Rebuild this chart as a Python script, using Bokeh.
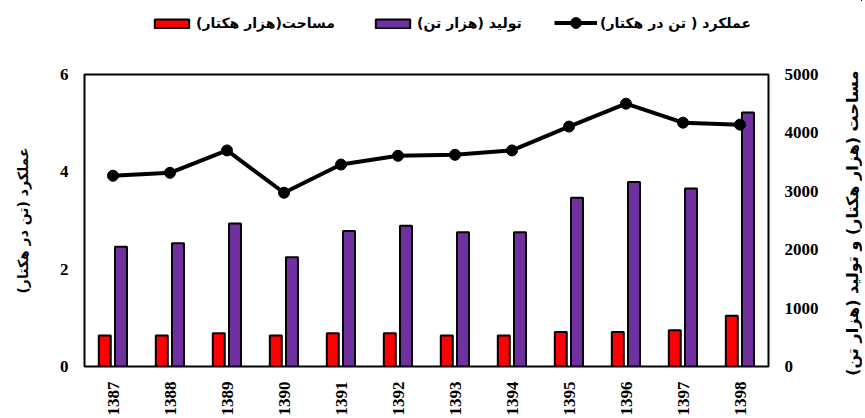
import math
from bokeh.plotting import figure
from bokeh.layouts import row, column
from bokeh.models import (ColumnDataSource, FactorRange, Range1d, LinearAxis, Legend, LegendItem,
                          FixedTicker, Title, Spacer)
from bokeh.transform import dodge
from bokeh.embed import file_html
from bokeh.resources import INLINE

years = ["1387", "1388", "1389", "1390", "1391", "1392", "1393", "1394", "1395", "1396", "1397", "1398"]
yield_t_ha = [3.92, 3.98, 4.44, 3.57, 4.15, 4.33, 4.35, 4.44, 4.93, 5.40, 5.01, 4.97]
area_kha = [530, 530, 570, 530, 570, 570, 530, 530, 590, 590, 620, 870]
production_kt = [2050, 2110, 2450, 1870, 2320, 2410, 2300, 2300, 2890, 3160, 3050, 4350]

left_ticks = [0, 2, 4, 6]
right_ticks = [0, 1000, 2000, 3000, 4000, 5000]

lbl_area = "مساحت(هزار هکتار)"
lbl_prod = "تولید (هزار تن)"
lbl_yield = "عملکرد ( تن در هکتار)"
title_left = "عملکرد (تن در هکتار)"
title_right = "مساحت (هزار هکتار)  و تولید (هزار تن)"

RED = "#FF0000"
PURPLE = "#7030A0"
tick_font = "Liberation Serif"
ar_font = "DejaVu Sans"

src = ColumnDataSource(dict(year=years, yld=yield_t_ha, area=area_kha, prod=production_kt))

def blank(fig):
    fig.outline_line_color = None
    fig.background_fill_color = "white"
    fig.border_fill_color = "white"
    fig.grid.visible = False

def style_axis(ax, standoff):
    ax.axis_line_color = None
    ax.major_tick_line_color = None
    ax.minor_tick_line_color = None
    ax.major_tick_out = 0
    ax.major_tick_in = 0
    ax.minor_tick_out = 0
    ax.minor_tick_in = 0
    ax.major_label_standoff = standoff
    ax.major_label_text_font = tick_font
    ax.major_label_text_font_style = "bold"
    ax.major_label_text_font_size = "17px"
    ax.major_label_text_color = "black"

ROW_H = 374

# ---------------- main chart ----------------
p = figure(width=806, height=ROW_H, x_range=FactorRange(factors=years), y_range=Range1d(0, 6),
           output_backend="svg", toolbar_location=None,
           min_border_left=50, min_border_right=72, min_border_top=30, min_border_bottom=51)
p.extra_y_ranges = {"right": Range1d(0, 5000)}
p.xgrid.grid_line_color = None
p.ygrid.grid_line_color = None
p.outline_line_color = "black"
p.outline_line_width = 2
p.background_fill_color = "white"
p.border_fill_color = "white"

ya = p.yaxis[0]
ya.ticker = FixedTicker(ticks=left_ticks)
style_axis(ya, 16)

ra = LinearAxis(y_range_name="right", ticker=FixedTicker(ticks=right_ticks))
style_axis(ra, 16)
p.add_layout(ra, "right")

xa = p.xaxis[0]
style_axis(xa, 15)
xa.major_label_orientation = math.pi / 2

p.vbar(x=dodge("year", -0.144, range=p.x_range), top="area", width=0.21, source=src,
       y_range_name="right", fill_color=RED, line_color="black", line_width=2)
p.vbar(x=dodge("year", 0.14, range=p.x_range), top="prod", width=0.21, source=src,
       y_range_name="right", fill_color=PURPLE, line_color="black", line_width=2)
p.line(x="year", y="yld", source=src, line_color="black", line_width=4)
p.scatter(x="year", y="yld", source=src, size=11, fill_color="black", line_color="black")

# ---------------- axis-title strips (both read bottom-to-top) ----------------
def title_strip(text, size, top, offset):
    f = figure(width=22, height=ROW_H, output_backend="svg", toolbar_location=None,
               x_axis_type=None, y_axis_type=None,
               min_border_left=0, min_border_right=0, min_border_top=top, min_border_bottom=0)
    blank(f)
    f.add_layout(Title(text=text, align="center", standoff=0, offset=offset, text_font=ar_font,
                       text_font_size=size, text_font_style="bold", text_color="black"), "left")
    return f

p0 = title_strip(title_left, "14px", 14, -15)
p2 = title_strip(title_right, "16px", 16, 0)

# ---------------- legend strip on top ----------------
pl = figure(width=862, height=44, x_range=Range1d(-2, -1), y_range=Range1d(-2, -1),
            output_backend="svg", toolbar_location=None, x_axis_type=None, y_axis_type=None,
            min_border_left=0, min_border_right=0, min_border_top=0, min_border_bottom=0)
blank(pl)
# legend-only renderers: their data fall outside this strip's ranges, so only the keys show
lg_area = pl.vbar(x="yld", top="area", width=0.1, source=src, fill_color=RED,
                  line_color="black", line_width=2)
lg_prod = pl.vbar(x="yld", top="prod", width=0.1, source=src, fill_color=PURPLE,
                  line_color="black", line_width=2)
lg_line = pl.line(x="yld", y="yld", source=src, line_color="black", line_width=4)
lg_pts = pl.scatter(x="yld", y="yld", source=src, size=11, fill_color="black", line_color="black")

def add_legend(label, renderers, x, y, gh):
    lg = Legend(items=[LegendItem(label=label, renderers=renderers)], location=(x, y),
                orientation="horizontal", border_line_color=None, background_fill_alpha=0,
                padding=0, margin=0, spacing=0, glyph_width=43, glyph_height=gh, label_height=11,
                label_standoff=3, label_text_font=ar_font, label_text_font_size="14px",
                label_text_font_style="bold", label_text_color="black")
    pl.add_layout(lg, "center")

add_legend(lbl_area, [lg_area], 150, 13, 11)
add_legend(lbl_prod, [lg_prod], 371, 13, 11)
add_legend(lbl_yield, [lg_line, lg_pts], 554, 8, 27)

layout = column(pl, row(Spacer(width=12, height=ROW_H), p0, p, p2))
open("out.html", "w").write(file_html(layout, INLINE))
